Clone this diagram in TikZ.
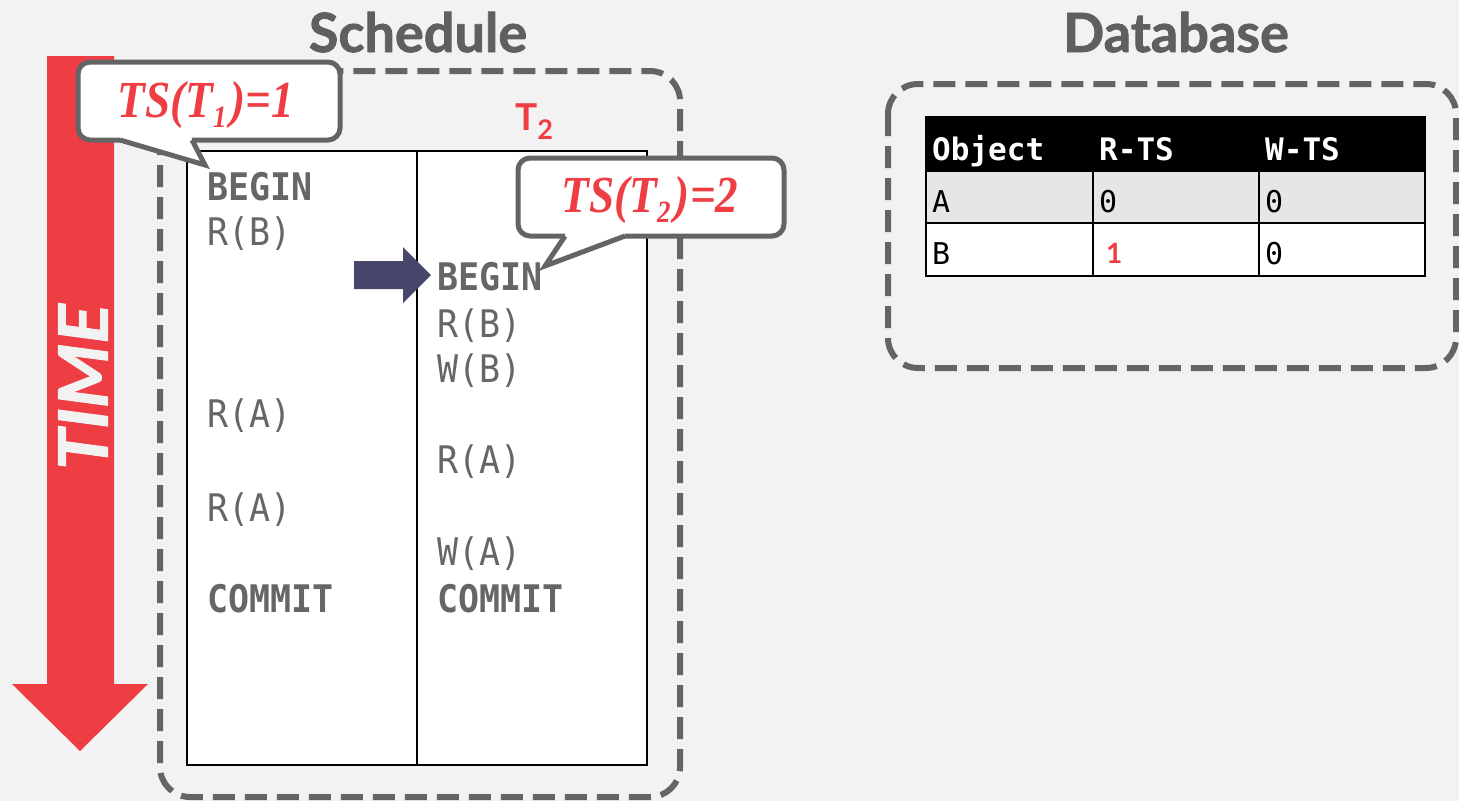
\documentclass[tikz,border=0pt]{standalone}
\usepackage{fontspec}
\setmainfont{Lato}
\newfontfamily\latofont{Lato}
\newfontfamily\latoheavy{Lato}[BoldFeatures={FakeBold=1.5}, BoldItalicFeatures={FakeBold=1.5}]
\newfontfamily\codefont[FakeStretch=0.92]{DejaVu Sans Mono}
\newfontfamily\tabfont{DejaVu Sans Mono}
\newfontfamily\tsfont{Liberation Serif}
\definecolor{bgc}{HTML}{F2F2F2}
\definecolor{redc}{HTML}{EE3D43}
\definecolor{boxgray}{HTML}{646464}
\definecolor{titlegray}{HTML}{5F5F5F}
\definecolor{opgray}{HTML}{666666}
\definecolor{navyc}{HTML}{46476A}
\definecolor{rowgray}{HTML}{E6E6E6}
\newcommand{\tsmark}[2]{\scalebox{0.87}[1]{TS(T\raisebox{-10pt}{\fontsize{31}{31}\selectfont #1}\kern5pt)=#2}}
\begin{document}
\begin{tikzpicture}[x=1pt,y=-1pt,
  dashbox/.style={draw=boxgray, line width=6pt, dash pattern=on 22pt off 10pt, rounded corners=30pt},
  title/.style={anchor=base, text=titlegray, inner sep=0pt, font=\latoheavy\bfseries\fontsize{54}{54}\selectfont},
  op/.style={anchor=base west, text=opgray, inner sep=0pt, font=\codefont\fontsize{38}{38}\selectfont},
  opb/.style={anchor=base west, text=opgray, inner sep=0pt, font=\codefont\bfseries\fontsize{38}{38}\selectfont},
  tshead/.style={anchor=base west, text=white, inner sep=0pt, font=\tabfont\bfseries\fontsize{31}{31}\selectfont},
  tscell/.style={anchor=base west, text=black, inner sep=0pt, font=\tabfont\fontsize{30}{30}\selectfont},
  bubble/.style={fill=white, draw=boxgray, line width=5pt, rounded corners=12pt},
  tail/.style={draw=boxgray, line width=5pt, line join=miter},
  tslabel/.style={anchor=base, text=redc, inner sep=0pt, font=\tsfont\bfseries\itshape\fontsize{52}{52}\selectfont}]
\useasboundingbox (0,0) rectangle (1459,801);
\fill[bgc] (0,0) rectangle (1459,801);

% time arrow
\fill[redc] (47,56) -- (114,56) -- (114,684) -- (148,684) -- (80,751) -- (12,684) -- (47,684) -- cycle;
\node[rotate=90, text=bgc, inner sep=0pt, font=\latoheavy\bfseries\itshape\fontsize{68}{68}\selectfont] (time) at (83,387) {\scalebox{1.08}[1]{TIME}};

% titles
\node[title] (schedtitle) at (418,52) {Schedule};
\node[title] (dbtitle) at (1176,52) {Database};

% schedule frame and table
\draw[dashbox] (160,71) rectangle (680,797);
\draw[fill=white, draw=black, line width=1.5pt] (187,151) rectangle (647,765);
\draw[black, line width=1.5pt] (417,151) -- (417,765);

\node[anchor=base west, text=redc, inner sep=0pt, font=\latofont\bfseries\fontsize{37}{37}\selectfont] (t2) at (515,130) {T\raisebox{-9pt}{\fontsize{27}{27}\selectfont 2}};

% operations of T1
\node[opb] (b1) at (207,200) {BEGIN};
\node[op]  (rb1) at (207,245) {R(B)};
\node[op]  (ra1) at (207,427) {R(A)};
\node[op]  (ra1b) at (207,521) {R(A)};
\node[opb] (c1) at (207,612) {COMMIT};

% operations of T2
\node[opb] (b2) at (437,290) {BEGIN};
\node[op]  (rb2) at (437,337) {R(B)};
\node[op]  (wb2) at (437,382) {W(B)};
\node[op]  (ra2) at (437,473) {R(A)};
\node[op]  (wa2) at (437,565) {W(A)};
\node[opb] (c2) at (437,612) {COMMIT};

% current step marker
\fill[navyc] (354,261) -- (403,261) -- (403,247) -- (431,275) -- (403,303) -- (403,289) -- (354,289) -- cycle;

% callout for T1
\draw[bubble] (78,62) rectangle (340,140);
\fill[white] (121,134) -- (191,134) -- (192,140) -- (205,165) -- (120,140) -- cycle;
\draw[tail] (120,140) -- (205,165) -- (192,140);
\node[tslabel] (ts1) at (206,117) {\tsmark{1}{1}};

% callout for T2
\draw[bubble] (518,158) rectangle (784,236);
\fill[white] (566,230) -- (624,230) -- (625,236) -- (545,266) -- (565,236) -- cycle;
\draw[tail] (565,236) -- (545,266) -- (625,236);
\node[tslabel] (ts2) at (650,212) {\tsmark{2}{2}};

% database frame
\draw[dashbox] (888,84) rectangle (1456,368);

% timestamp table
\fill[black] (926,117) rectangle (1425,172);
\fill[rowgray] (926,172) rectangle (1425,223);
\fill[white] (926,223) rectangle (1425,276);
\draw[black, line width=2pt] (926,117) rectangle (1425,276);
\draw[black, line width=2pt] (926,223) -- (1425,223);
\draw[black, line width=2pt] (1093,172) -- (1093,276);
\draw[black, line width=2pt] (1259,172) -- (1259,276);
\node[tshead] (hobj) at (932,160) {Object};
\node[tshead] (hrts) at (1099,160) {R-TS};
\node[tshead] (hwts) at (1265,160) {W-TS};
\node[tscell] (ca) at (932,212) {A};
\node[tscell] (ca1) at (1099,212) {0};
\node[tscell] (ca2) at (1265,212) {0};
\node[tscell] (cb) at (932,264) {B};
\node[anchor=base west, text=redc, inner sep=0pt, font=\latofont\bfseries\fontsize{28}{28}\selectfont] (cb1) at (1106,263) {1};
\node[tscell] (cb2) at (1265,264) {0};
\end{tikzpicture}
\end{document}
